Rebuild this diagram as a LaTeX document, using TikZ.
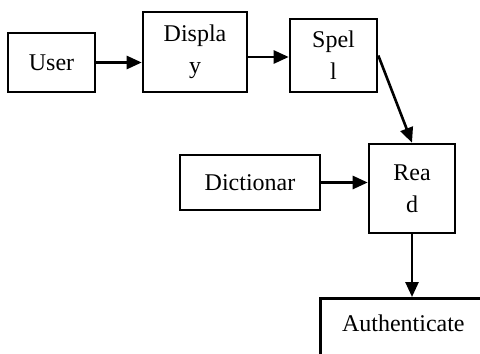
\documentclass[tikz,border=0pt]{standalone}
\usepackage{fontspec}
\setmainfont{Liberation Serif}
\usetikzlibrary{arrows.meta}
\tikzset{
    edge_arrow/.style={-{Triangle[length=7.5pt,width=6.5pt]}, line width=1.3pt, draw=black},
    block_node/.style={rectangle, draw=black, line width=1.3pt, fill=white, align=center, inner sep=0pt}
}

\begin{document}
\begin{tikzpicture}[font=\fontsize{12}{16}\selectfont]
\clip (0,0) rectangle (240pt,-176.5pt);
\fill[white] (0,0) rectangle (240pt,-176.5pt);

\node[block_node, minimum width=43.5pt, minimum height=29.5pt] (user)    at (25.75pt,-31.25pt) {User};
\node[block_node, minimum width=52pt,   minimum height=40pt]   (display) at (97.5pt,-26pt)     {Displa\\y};
\node[block_node, minimum width=43.5pt, minimum height=36.5pt] (spell)   at (166.75pt,-27.75pt) {Spel\\l};
\node[block_node, minimum width=70pt,   minimum height=27.5pt] (dict)    at (125pt,-91.25pt)   {Dictionar};
\node[block_node, minimum width=43pt,   minimum height=44.5pt] (read)    at (206pt,-94.25pt)   {Rea\\d};
\node[block_node, minimum width=83pt, text height=16.5pt, text depth=30pt, anchor=north west]
    (auth) at (159.5pt,-148.5pt) {Authenticate};

\draw[edge_arrow] (user.east) -- (user.east -| display.west);
\draw[edge_arrow] ([yshift=-2.5pt]display.east) -- ([yshift=-2.5pt]display.east -| spell.west);
\draw[edge_arrow] (spell.east) -- (read.north);
\draw[edge_arrow] (dict.east) -- (dict.east -| read.west);
\draw[edge_arrow] (read.south) -- (read.south |- auth.north);

\end{tikzpicture}
\end{document}
